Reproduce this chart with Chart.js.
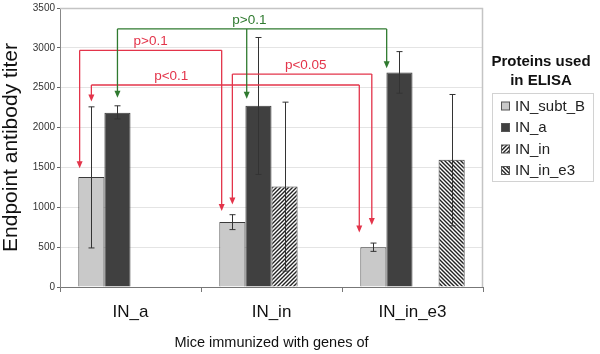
<!DOCTYPE html>
<html>
<head>
<meta charset="utf-8">
<script src="https://cdn.jsdelivr.net/npm/chart.js@4/dist/chart.umd.min.js"></script>
<style>
  html, body { margin: 0; padding: 0; background: #fff; }
  #wrap { width: 600px; height: 354px; position: relative; }
</style>
</head>
<body>
<div id="wrap"><canvas id="c" width="600" height="354"></canvas></div>
<script>
// ---------- data ----------
const categories = ['IN_a', 'IN_in', 'IN_in_e3'];
const seriesNames = ['IN_subt_B', 'IN_a', 'IN_in', 'IN_in_e3'];

const subtB  = [1380, 816, 500];
const inA    = [2185, 2275, 2690];
const inIn   = [null, 1260, null];
const inInE3 = [null, null, 1595];

const subtBLow  = [490, 720, 447];
const subtBHigh = [2260, 907, 551];
const inALow    = [2108, 1412, 2431];
const inAHigh   = [2273, 3130, 2953];
const inInLow   = [null, 199, null];
const inInHigh  = [null, 2319, null];
const inInE3Low  = [null, null, 767];
const inInE3High = [null, null, 2415];

const yTicksMax = 3500;
const yTickStep = 500;

const axisTitleY = 'Endpoint antibody titer';
const axisTitleX = 'Mice immunized with genes of';
const legendTitle = ['Proteins used', 'in ELISA'];

// significance brackets (data units: dataset, category index, value)
const bracketLabels = ['p>0.1', 'p<0.1', 'p<0.05', 'p>0.1'];
const bracketLevel  = [2969, 2534, 2671, 3238];
const bracketFrom   = [[0, 0, 1491], [0, 0, 2328], [0, 1, 1036], [1, 0, 2373]];
const bracketTo     = [[[0, 1, 953]], [[0, 2, 683]], [[0, 2, 779]], [[1, 1, 2360], [1, 2, 2745]]];

// ---------- styles ----------
const RED = '#e3344a', GREEN = '#2f7a2f';
const bracketColor = [RED, RED, RED, GREEN];
const bracketLabelFrac = [0.5, 0.298, 0.526, 0.49];
const fromOff = [-0.45, 0, 0, 0];
const toOff = [[-0.41], [-0.54], [-0.06], [-0.45, -0.49]];

const FONT = "'Liberation Sans', Arial, Helvetica, sans-serif";
Chart.defaults.font.family = FONT;

function hatch(dir) {
  const s = 4;
  const c = document.createElement('canvas');
  c.width = s; c.height = s;
  const g = c.getContext('2d');
  g.fillStyle = '#ffffff';
  g.fillRect(0, 0, s, s);
  g.strokeStyle = '#222';
  g.lineWidth = 1.4;
  g.beginPath();
  if (dir > 0) {
    g.moveTo(-1, s + 1); g.lineTo(s + 1, -1);
    g.moveTo(-1, 1); g.lineTo(1, -1);
    g.moveTo(s - 1, s + 1); g.lineTo(s + 1, s - 1);
  } else {
    g.moveTo(-1, -1); g.lineTo(s + 1, s + 1);
    g.moveTo(s - 1, -1); g.lineTo(s + 1, 1);
    g.moveTo(-1, s - 1); g.lineTo(1, s + 1);
  }
  g.stroke();
  return document.getElementById('c').getContext('2d').createPattern(c, 'repeat');
}

const fills = ['#c9c9c9', '#404040', hatch(1), hatch(-1)];
const values = [subtB, inA, inIn, inInE3];
const errLow = [subtBLow, inALow, inInLow, inInE3Low];
const errHigh = [subtBHigh, inAHigh, inInHigh, inInE3High];

const extras = {
  id: 'extras',
  beforeDatasetsDraw(chart) {
    const { ctx, chartArea: a } = chart;
    ctx.save();
    ctx.strokeStyle = '#c4c4c4';
    ctx.lineWidth = 1.5;
    ctx.beginPath();
    ctx.moveTo(a.left, a.top + 0.5);
    ctx.lineTo(a.right - 0.5, a.top + 0.5);
    ctx.lineTo(a.right - 0.5, a.bottom);
    ctx.stroke();
    ctx.restore();
  },
  afterDatasetsDraw(chart) {
    const ctx = chart.ctx;
    const ys = chart.scales.y;
    ctx.save();
    // error bars
    ctx.strokeStyle = '#333';
    ctx.lineWidth = 1;
    errLow.forEach((lows, ds) => {
      const meta = chart.getDatasetMeta(ds);
      lows.forEach((lo, i) => {
        const hi = errHigh[ds][i];
        if (lo == null || hi == null) return;
        const x = Math.round(meta.data[i].x) + 0.5;
        const y1 = ys.getPixelForValue(lo), y2 = ys.getPixelForValue(hi);
        ctx.beginPath();
        ctx.moveTo(x, y1); ctx.lineTo(x, y2);
        ctx.moveTo(x - 3, y1); ctx.lineTo(x + 3, y1);
        ctx.moveTo(x - 3, y2); ctx.lineTo(x + 3, y2);
        ctx.stroke();
      });
    });
    // brackets
    const px = (ds, idx, off) => {
      const b = chart.getDatasetMeta(ds).data[idx];
      return b.x + off * b.width;
    };
    const arrow = (x, yTop, yTip, col) => {
      ctx.strokeStyle = col; ctx.fillStyle = col; ctx.lineWidth = 1.3;
      ctx.beginPath(); ctx.moveTo(x, yTop); ctx.lineTo(x, yTip - 6); ctx.stroke();
      ctx.beginPath();
      ctx.moveTo(x - 3, yTip - 7); ctx.lineTo(x + 3, yTip - 7); ctx.lineTo(x, yTip);
      ctx.closePath(); ctx.fill();
    };
    bracketLabels.forEach((lab, k) => {
      const col = bracketColor[k];
      const ly = ys.getPixelForValue(bracketLevel[k]);
      const f = bracketFrom[k];
      const x0 = px(f[0], f[1], fromOff[k]);
      arrow(x0, ly, ys.getPixelForValue(f[2]), col);
      let xEnd = x0;
      bracketTo[k].forEach((t, j) => {
        const x = px(t[0], t[1], toOff[k][j]);
        arrow(x, ly, ys.getPixelForValue(t[2]), col);
        xEnd = Math.max(xEnd, x);
      });
      ctx.strokeStyle = col; ctx.lineWidth = 1.3;
      ctx.beginPath(); ctx.moveTo(x0, ly); ctx.lineTo(xEnd, ly); ctx.stroke();
      ctx.fillStyle = col;
      ctx.font = '13.5px ' + FONT;
      ctx.textAlign = 'center'; ctx.textBaseline = 'middle';
      ctx.fillText(lab, x0 + (xEnd - x0) * bracketLabelFrac[k], ly - 9);
    });
    ctx.restore();
  },
  afterDraw(chart) {
    const { ctx, chartArea: a } = chart;
    const cx = a.right + 58;
    ctx.save();
    ctx.fillStyle = '#111';
    ctx.font = 'bold 15px ' + FONT;
    ctx.textAlign = 'center'; ctx.textBaseline = 'middle';
    legendTitle.forEach((t, i) => ctx.fillText(t, cx, 62 + i * 18.5));
    const bx = a.right + 9, by = 93.5, bw = 101, bh = 88;
    ctx.strokeStyle = '#d2d2d2'; ctx.lineWidth = 1;
    ctx.strokeRect(bx + 0.5, by, bw, bh);
    ctx.font = '15px ' + FONT;
    ctx.textAlign = 'left';
    chart.data.datasets.forEach((d, i) => {
      const y = 106 + i * 21.5;
      ctx.fillStyle = d.backgroundColor;
      ctx.fillRect(bx + 9.5, y - 4, 8, 8);
      ctx.strokeStyle = '#555';
      ctx.strokeRect(bx + 9.5, y - 4, 8, 8);
      ctx.fillStyle = '#222';
      ctx.fillText(d.label, bx + 23, y + 0.5);
    });
    ctx.restore();
  }
};

new Chart(document.getElementById('c'), {
  type: 'bar',
  data: {
    labels: categories,
    datasets: seriesNames.map((n, i) => ({
      label: n,
      data: values[i],
      backgroundColor: fills[i],
      borderColor: '#3a3a3a',
      borderWidth: 1,
      categoryPercentage: 0.74,
      barPercentage: 1.0
    }))
  },
  options: {
    responsive: false,
    animation: false,
    layout: { padding: { top: 5, right: 117, left: 0, bottom: 0 } },
    plugins: { legend: { display: false }, tooltip: { enabled: false } },
    scales: {
      x: {
        afterFit(s) { s.height = 67; },
        grid: { offset: true, drawOnChartArea: false, tickLength: 5, color: '#777', tickColor: '#777' },
        border: { color: '#777', width: 1 },
        ticks: { font: { size: 17 }, color: '#111', padding: 10 },
        title: { display: true, text: axisTitleX, font: { size: 14.5 }, color: '#111', padding: { top: 0, bottom: 2 } }
      },
      y: {
        min: 0, max: yTicksMax,
        afterFit(s) { s.width = 60; },
        ticks: { stepSize: yTickStep, font: { size: 10 }, color: '#333', padding: 2, callback: (v) => String(v) },
        grid: { color: '#e4e4e4', tickColor: '#666', tickLength: 3 },
        border: { color: '#888', width: 1 },
        title: { display: true, text: axisTitleY, font: { size: 21, lineHeight: 1.1 }, color: '#111', padding: { top: 0, bottom: 0 } }
      }
    }
  },
  plugins: [extras]
});
</script>
</body>
</html>
